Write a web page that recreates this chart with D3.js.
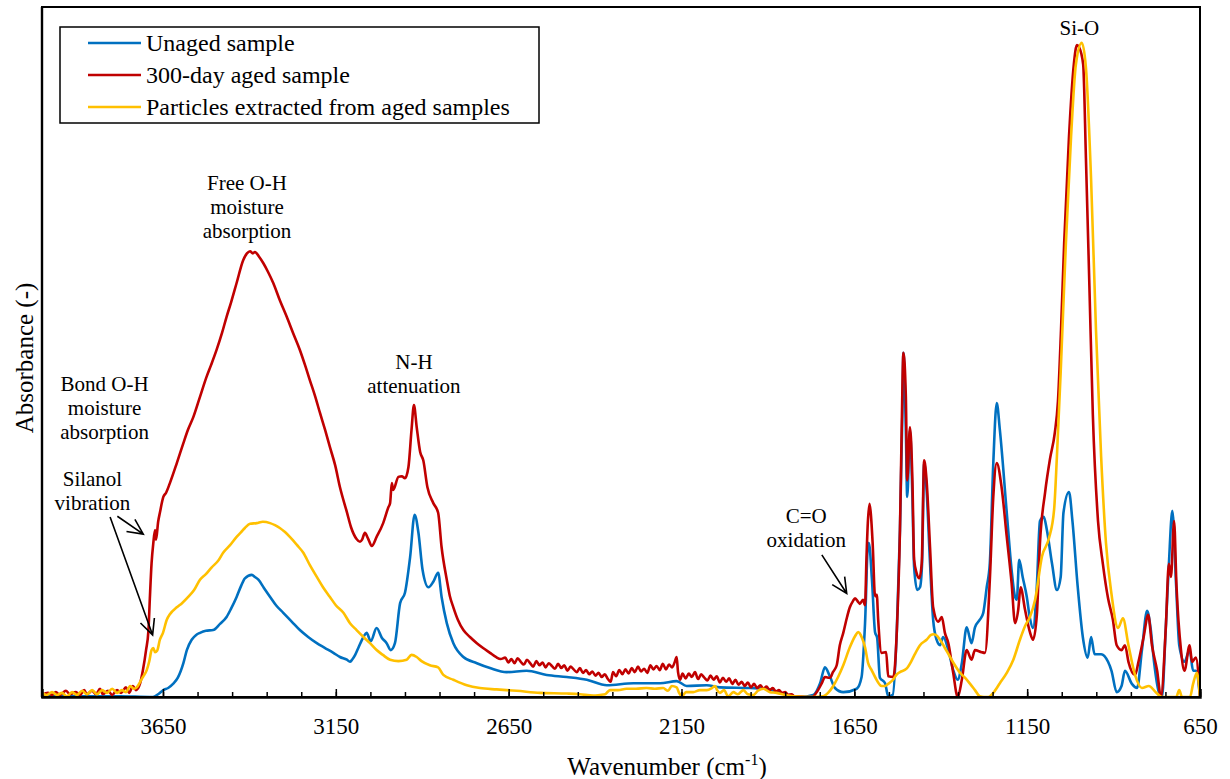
<!DOCTYPE html>
<html><head><meta charset="utf-8">
<script src="https://cdnjs.cloudflare.com/ajax/libs/d3/7.8.5/d3.min.js"></script>
<style>
html,body{margin:0;padding:0;background:#fff;}
svg{display:block;}
svg text{font-family:"Liberation Serif","Times New Roman",serif;}
</style></head>
<body>
<svg id="chart" width="1230" height="779"></svg>
<script>
// ---------- DATA (wavenumber cm-1, relative absorbance) ----------
const seriesNames = ["Unaged sample", "300-day aged sample", "Particles extracted from aged samples"];
const seriesColors = ["#0070C0", "#C00000", "#FFC000"];

const unaged = [
[4000,.001],[3890,.001],[3774,.001],[3688,0],[3679,0],[3664,.004],[3649,.010],[3635,.013],[3621,.019],[3607,.028],[3591,.049],[3581,.068],[3567,.083],[3554,.090],[3543,.093],[3526,.096],[3505,.097],[3485,.106],[3466,.116],[3453,.128],[3437,.145],[3424,.161],[3413,.172],[3393,.177],[3384,.174],[3374,.170],[3358,.158],[3340,.145],[3323,.133],[3302,.122],[3277,.109],[3254,.097],[3230,.087],[3205,.078],[3181,.071],[3157,.064],[3138,.058],[3118,.054],[3109,.051],[3103,.054],[3094,.061],[3085,.071],[3070,.087],[3061,.093],[3049,.081],[3032,.100],[3017,.086],[3003,.078],[2991,.068],[2979,.078],[2964,.136],[2950,.151],[2935,.203],[2922,.264],[2911,.238],[2899,.184],[2882,.159],[2868,.167],[2854,.180],[2844,.145],[2829,.107],[2810,.078],[2781,.058],[2742,.049],[2704,.042],[2656,.036],[2598,.038],[2540,.032],[2482,.029],[2424,.025],[2366,.017],[2289,.020],[2212,.020],[2164,.023],[2135,.016],[2077,.017],[2039,.014],[1952,.013],[1904,.012],[1865,.006],[1807,0],[1769,.003],[1749,.020],[1735,.043],[1720,.029],[1706,.013],[1682,.007],[1643,.012],[1629,.029],[1619,.107],[1610,.223],[1608,.223],[1599,.170],[1590,.094],[1584,.086],[1576,.028],[1561,.020],[1552,.001],[1539,.003],[1527,.097],[1518,.242],[1511,.412],[1508,.499],[1501,.387],[1497,.290],[1489,.387],[1482,.290],[1477,.188],[1468,.155],[1460,.159],[1454,.194],[1448,.339],[1441,.300],[1431,.194],[1422,.112],[1412,.083],[1402,.075],[1393,.087],[1378,.068],[1364,.039],[1351,.025],[1339,.049],[1325,.101],[1311,.078],[1301,.101],[1287,.112],[1277,.122],[1267,.159],[1258,.194],[1248,.339],[1238,.426],[1229,.387],[1209,.267],[1195,.184],[1185,.145],[1180,.141],[1173,.199],[1163,.174],[1151,.145],[1142,.114],[1133,.100],[1122,.161],[1113,.255],[1102,.261],[1093,.242],[1078,.193],[1064,.155],[1053,.174],[1045,.267],[1029,.297],[1019,.255],[1004,.161],[989,.087],[975,.057],[965,.087],[955,.062],[936,.062],[916,.051],[906,.038],[891,.007],[877,.016],[867,.038],[847,.019],[832,.013],[818,.068],[803,.125],[793,.100],[783,.051],[769,.007],[760,0],[749,.100],[740,.193],[730,.270],[719,.161],[710,.075],[695,.051],[680,.068],[670,.038],[662,.038],[650,0]
];

const aged300 = [
[4000,.003],[3983,.006],[3971,.003],[3960,.007],[3948,.003],[3931,.009],[3919,.004],[3902,.007],[3890,.003],[3878,.010],[3870,.004],[3855,.009],[3844,.004],[3832,.012],[3824,.004],[3809,.009],[3797,.003],[3783,.010],[3771,.006],[3757,.014],[3748,.006],[3737,.016],[3728,.010],[3716,.020],[3708,.039],[3699,.068],[3692,.097],[3688,.143],[3683,.194],[3678,.223],[3673,.242],[3670,.228],[3664,.254],[3659,.267],[3649,.290],[3641,.296],[3630,.310],[3610,.339],[3591,.368],[3578,.387],[3562,.406],[3543,.435],[3524,.464],[3511,.481],[3495,.503],[3479,.528],[3466,.551],[3453,.572],[3437,.600],[3418,.633],[3407,.643],[3398,.646],[3390,.643],[3384,.645],[3372,.638],[3360,.629],[3346,.616],[3331,.600],[3312,.575],[3292,.551],[3274,.528],[3254,.503],[3239,.481],[3225,.459],[3210,.436],[3196,.412],[3181,.387],[3167,.362],[3152,.336],[3138,.304],[3118,.268],[3106,.246],[3090,.229],[3080,.225],[3074,.228],[3066,.238],[3057,.230],[3046,.219],[3032,.232],[3013,.252],[2998,.275],[2993,.281],[2988,.310],[2984,.300],[2969,.319],[2959,.320],[2950,.317],[2940,.333],[2931,.387],[2924,.423],[2916,.391],[2906,.355],[2897,.343],[2885,.304],[2868,.281],[2854,.267],[2844,.217],[2829,.170],[2820,.146],[2810,.130],[2797,.112],[2781,.097],[2762,.087],[2742,.078],[2724,.071],[2704,.064],[2687,.058],[2673,.055],
[2660,.057],[2651,.050],[2642,.055],[2633,.049],[2624,.056],[2615,.051],[2606,.047],[2597,.054],[2588,.049],[2579,.044],[2570,.052],[2561,.046],[2552,.050],[2543,.043],[2534,.049],[2525,.045],[2516,.041],[2507,.048],[2498,.042],[2489,.046],[2480,.038],[2471,.044],[2462,.040],[2453,.036],[2444,.042],[2435,.035],[2426,.039],[2417,.033],[2408,.037],[2399,.031],[2390,.035],[2381,.029],[2372,.033],[2363,.026],[2355,.022],[2348,.036],[2339,.030],[2330,.039],[2321,.033],[2312,.040],[2303,.034],[2294,.042],[2285,.036],[2276,.044],[2267,.037],[2258,.041],[2249,.035],[2240,.046],[2231,.040],[2222,.045],[2213,.039],[2204,.048],[2195,.040],[2186,.047],[2177,.043],[2170,.050],[2164,.058],[2160,.036],[2154,.025],[2147,.034],[2138,.027],[2129,.034],[2120,.029],[2111,.036],[2102,.026],[2093,.033],[2084,.028],[2075,.024],[2066,.031],[2057,.025],[2048,.030],[2039,.021],[2030,.028],[2021,.022],[2012,.027],[2003,.019],[1994,.025],[1985,.018],[1976,.022],[1967,.016],[1958,.021],[1949,.014],[1940,.019],[1931,.013],[1922,.017],[1913,.012],[1904,.015],[1895,.010],[1886,.013],[1877,.008],[1868,.010],[1859,.006],[1850,.007],[1841,.003],[1832,.004],[1823,.001],[1816,.001],
[1793,0],[1772,0],[1755,.010],[1744,.020],[1735,.029],[1726,.028],[1720,.028],[1712,.036],[1701,.046],[1692,.075],[1682,.093],[1671,.116],[1663,.130],[1654,.139],[1648,.143],[1639,.138],[1634,.135],[1625,.141],[1619,.133],[1615,.199],[1611,.252],[1606,.280],[1602,.264],[1597,.223],[1590,.146],[1585,.148],[1581,.112],[1571,.064],[1558,.065],[1552,.030],[1537,.029],[1527,.097],[1518,.242],[1513,.387],[1508,.499],[1501,.436],[1497,.314],[1489,.391],[1482,.314],[1477,.199],[1470,.180],[1462,.172],[1455,.194],[1448,.343],[1441,.314],[1431,.217],[1422,.130],[1407,.109],[1397,.116],[1388,.093],[1378,.078],[1364,.035],[1351,0],[1339,.025],[1325,.068],[1311,.054],[1301,.068],[1282,.065],[1272,.064],[1258,.170],[1248,.290],[1238,.339],[1224,.304],[1209,.232],[1195,.165],[1185,.107],[1176,.126],[1169,.159],[1156,.126],[1142,.094],[1133,.083],[1122,.119],[1113,.223],[1098,.297],[1084,.345],[1070,.383],[1061,.428],[1052,.533],[1043,.657],[1029,.812],[1015,.917],[1006,.945],[1000,.942],[988,.917],[980,.781],[970,.596],[960,.409],[945,.255],[931,.193],[916,.143],[902,.112],[891,.075],[877,.068],[867,.075],[857,.051],[838,.032],[828,.051],[813,.087],[800,.119],[789,.075],[774,.038],[763,0],[749,.100],[740,.193],[734,.174],[725,.255],[718,.161],[705,.068],[695,.038],[680,.075],[673,.051],[662,.057],[650,0]
];

const particles = [
[4000,.006],[3986,.003],[3971,.007],[3957,.003],[3942,.006],[3928,.001],[3913,.007],[3899,.003],[3884,.009],[3870,.004],[3855,.010],[3841,.004],[3826,.010],[3812,.006],[3797,.012],[3783,.006],[3769,.010],[3757,.007],[3745,.016],[3734,.012],[3726,.014],[3716,.022],[3708,.029],[3697,.039],[3690,.051],[3683,.068],[3678,.071],[3673,.065],[3667,.067],[3659,.083],[3650,.093],[3639,.112],[3630,.120],[3610,.130],[3595,.136],[3577,.145],[3560,.155],[3543,.170],[3526,.178],[3509,.188],[3491,.197],[3476,.209],[3456,.220],[3437,.232],[3424,.239],[3413,.245],[3398,.251],[3379,.252],[3361,.254],[3340,.252],[3326,.249],[3312,.245],[3297,.239],[3283,.232],[3262,.220],[3244,.209],[3225,.191],[3205,.174],[3187,.159],[3167,.145],[3150,.133],[3128,.122],[3109,.107],[3090,.097],[3070,.087],[3051,.078],[3032,.068],[3014,.061],[2993,.054],[2969,.052],[2945,.054],[2931,.061],[2916,.058],[2902,.052],[2878,.046],[2854,.043],[2839,.032],[2810,.025],[2771,.017],[2733,.013],[2685,.011],[2627,.009],[2559,.006],[2482,.005],[2444,.004],[2405,.002],[2386,.003],[2371,.004],[2357,.010],[2334,.010],[2309,.012],[2282,.012],[2251,.013],[2227,.012],[2203,.013],[2189,.009],[2178,.016],[2164,.014],[2157,.006],[2149,.001],[2137,.007],[2116,.007],[2097,.010],[2077,.010],[2062,.013],[2053,.016],[2047,.010],[2039,.006],[2027,.010],[2015,.001],[2000,.007],[1987,.004],[1971,.010],[1958,.004],[1942,.003],[1929,.009],[1913,.012],[1894,.007],[1875,.006],[1851,.003],[1827,.001],[1769,0],[1740,.001],[1726,.006],[1711,.016],[1697,.029],[1682,.046],[1663,.072],[1648,.088],[1639,.094],[1628,.086],[1619,.072],[1610,.049],[1600,.039],[1590,.029],[1571,.016],[1561,.016],[1552,.019],[1538,.025],[1527,.033],[1518,.036],[1499,.041],[1486,.051],[1475,.062],[1460,.075],[1441,.083],[1428,.090],[1422,.091],[1414,.090],[1402,.083],[1388,.071],[1373,.058],[1359,.046],[1344,.035],[1330,.028],[1315,.019],[1301,.010],[1287,.001],[1275,0],[1262,0],[1248,.006],[1229,.020],[1209,.035],[1190,.054],[1171,.083],[1156,.103],[1142,.116],[1127,.141],[1107,.204],[1087,.230],[1072,.272],[1064,.348],[1053,.471],[1038,.657],[1023,.812],[1009,.917],[992,.948],[980,.912],[965,.749],[951,.533],[936,.348],[922,.223],[906,.149],[887,.100],[873,.114],[857,.075],[838,.032],[818,.013],[798,.016],[778,.007],[760,0],[730,0],[719,0],[710,.010],[702,0],[679,0],[670,.019],[659,.035],[650,0]
];

const xDomain = [4000, 650];
const yDomain = [0, 1];
const minorTicks = d3.range(3650, 649, -100);
const majorTicks = [3650, 3150, 2650, 2150, 1650, 1150, 650];

// annotations: [wavenumber, absorbance] of first-line baseline centre
const annotations = [
  {w: 999,  a: 0.960, lines: ["Si-O"]},
  {w: 3407, a: 0.735, lines: ["Free O-H", "moisture", "absorption"]},
  {w: 2924, a: 0.475, lines: ["N-H", "attenuation"]},
  {w: 3819, a: 0.444, lines: ["Bond O-H", "moisture", "absorption"]},
  {w: 3854, a: 0.306, lines: ["Silanol", "vibration"]},
  {w: 1789, a: 0.252, lines: ["C=O", "oxidation"]}
];
// arrows: tail -> tip in data coords
const arrows = [
  {from: [3782, 0.262], to: [3707, 0.236]},
  {from: [3803, 0.261], to: [3680, 0.090]},
  {from: [1744, 0.206], to: [1672, 0.150]}
];

// ---------- CHART ----------
const FONT = '"Liberation Serif","Times New Roman",serif';
const svg = d3.select("#chart");
const plot = {left: 42, top: 7, right: 1200, bottom: 697};
const x = d3.scaleLinear().domain(xDomain).range([plot.left, plot.right]);
const y = d3.scaleLinear().domain(yDomain).range([plot.bottom, plot.top]);

svg.append("clipPath").attr("id", "clip")
  .append("rect").attr("x", plot.left).attr("y", plot.top - 2)
  .attr("width", plot.right - plot.left).attr("height", plot.bottom - plot.top + 2);

const line = d3.line().x(d => x(d[0])).y(d => y(d[1])).curve(d3.curveMonotoneX);

const allSeries = [unaged, aged300, particles];
svg.append("g").attr("clip-path", "url(#clip)")
  .selectAll("path").data(allSeries).join("path")
  .attr("d", line)
  .attr("fill", "none")
  .attr("stroke", (d, i) => seriesColors[i])
  .attr("stroke-width", 2.6)
  .attr("stroke-linejoin", "round");

// frame
svg.append("rect").attr("x", plot.left).attr("y", plot.top)
  .attr("width", plot.right - plot.left).attr("height", plot.bottom - plot.top)
  .attr("fill", "none").attr("stroke", "#000").attr("stroke-width", 2);

// x axis minor ticks
const minorAxis = d3.axisBottom(x).tickValues(minorTicks).tickSize(-5).tickFormat("");
svg.append("g").attr("transform", `translate(0,${plot.bottom})`).call(minorAxis)
  .call(g => g.select(".domain").remove())
  .call(g => g.selectAll(".tick line").attr("stroke", "#000").attr("stroke-width", 1.5));
// major ticks with labels
const majorAxis = d3.axisBottom(x).tickValues(majorTicks).tickSize(-8).tickPadding(21).tickFormat(d3.format("d"));
svg.append("g").attr("transform", `translate(0,${plot.bottom})`).call(majorAxis)
  .attr("font-family", FONT)
  .call(g => g.select(".domain").attr("stroke", "#000").attr("stroke-width", 2.4))
  .call(g => g.selectAll(".tick line").attr("stroke", "#000").attr("stroke-width", 1.5))
  .call(g => g.selectAll(".tick text").attr("font-size", 23)
      .attr("font-family", FONT).attr("fill", "#000"));

// y axis line
svg.append("line").attr("x1", plot.left).attr("x2", plot.left)
  .attr("y1", plot.top).attr("y2", plot.bottom).attr("stroke", "#000").attr("stroke-width", 2.4);

// axis titles
const xt = svg.append("text").attr("x", (plot.left + plot.right) / 2 + 46).attr("y", 775)
  .attr("text-anchor", "middle").attr("font-size", 25).attr("font-family", FONT).attr("fill", "#000");
xt.append("tspan").text("Wavenumber (cm");
xt.append("tspan").text("-1").attr("font-size", 16).attr("dy", -10);
xt.append("tspan").text(")").attr("dy", 10);

svg.append("text").attr("transform", `translate(33,${(plot.top + plot.bottom) / 2 + 6}) rotate(-90)`)
  .attr("text-anchor", "middle").attr("font-size", 25).attr("font-family", FONT)
  .attr("fill", "#000").text("Absorbance (-)");

// annotations
annotations.forEach(an => {
  const t = svg.append("text").attr("x", x(an.w)).attr("y", y(an.a))
    .attr("text-anchor", "middle").attr("font-size", 21).attr("font-family", FONT).attr("fill", "#000");
  an.lines.forEach((ln, i) => {
    t.append("tspan").attr("x", x(an.w)).attr("dy", i === 0 ? 0 : 24).text(ln);
  });
});

// arrows with open heads
arrows.forEach(ar => {
  const x1 = x(ar.from[0]), y1 = y(ar.from[1]), x2 = x(ar.to[0]), y2 = y(ar.to[1]);
  const ang = Math.atan2(y2 - y1, x2 - x1);
  const L = 17, half = 0.45;
  const h1 = [x2 - L * Math.cos(ang - half), y2 - L * Math.sin(ang - half)];
  const h2 = [x2 - L * Math.cos(ang + half), y2 - L * Math.sin(ang + half)];
  svg.append("path")
    .attr("d", `M${x1},${y1}L${x2},${y2}M${h1[0]},${h1[1]}L${x2},${y2}L${h2[0]},${h2[1]}`)
    .attr("fill", "none").attr("stroke", "#000").attr("stroke-width", 1.6);
});

// legend
const lg = svg.append("g");
lg.append("rect").attr("x", 60).attr("y", 27).attr("width", 479).attr("height", 96)
  .attr("fill", "#fff").attr("stroke", "#000").attr("stroke-width", 1.5);
seriesNames.forEach((name, i) => {
  const yy = 43 + i * 32;
  lg.append("line").attr("x1", 88).attr("x2", 141).attr("y1", yy).attr("y2", yy)
    .attr("stroke", seriesColors[i]).attr("stroke-width", 2.6);
  lg.append("text").attr("x", 146).attr("y", yy + 8).attr("font-size", 24)
    .attr("font-family", FONT).attr("fill", "#000").text(name);
});
</script>
</body></html>
